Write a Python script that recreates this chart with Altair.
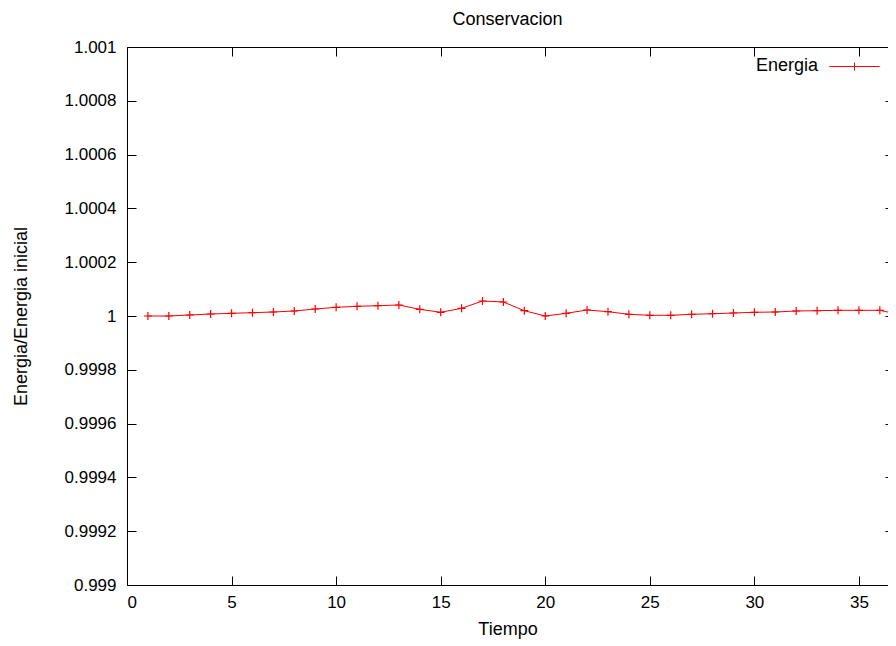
import altair as alt
import pandas as pd

FONT = "Liberation Sans"

tiempo = list(range(1, 38))
energia = [1.0, 1.0, 1.0000037, 1.0000074, 1.00001, 1.0000123, 1.0000149, 1.0000186, 1.000026, 1.0000323,
           1.000036, 1.0000383, 1.0000409, 1.0000249, 1.0000138, 1.0000286, 1.0000558, 1.000052, 1.0000197, 1.0,
           1.00001, 1.0000223, 1.000016, 1.0000063, 1.0000026, 1.0000026, 1.0000063, 1.0000085, 1.0000112, 1.0000138,
           1.0000149, 1.0000186, 1.0000197, 1.0000212, 1.0000212, 1.0000212, 1.000004]
serie = ["Energia"] * len(tiempo)

x_ticks = [0, 5, 10, 15, 20, 25, 30, 35]
y_ticks = [0.999, 0.9992, 0.9994, 0.9996, 0.9998, 1.0, 1.0002, 1.0004, 1.0006, 1.0008, 1.001]
x_domain = [0, 36.39]
y_domain = [0.999, 1.001]

df = pd.DataFrame({"Tiempo": tiempo, "Energia": energia, "serie": serie})

xs = alt.Scale(domain=x_domain, nice=False, zero=False)
ys = alt.Scale(domain=y_domain, nice=False, zero=False)

txt = dict(labelFont=FONT, labelFontSize=17, labelColor="black",
           titleFont=FONT, titleFontSize=18, titleFontWeight="normal", titleColor="black", grid=False)

x_main = alt.Axis(orient="bottom", values=x_ticks, ticks=False, tickSize=0, labelPadding=9,
                  title="Tiempo", titlePadding=10, domainColor="black", domainWidth=1, **txt)
y_main = alt.Axis(orient="left", values=y_ticks, ticks=False, tickSize=0, labelPadding=11, format=".5~g",
                  title="Energia/Energia inicial", titlePadding=34, domainColor="black", domainWidth=1, **txt)

tick_style = dict(domain=False, labels=False, title=None, grid=False, tickColor="black", tickWidth=1)
x_bot_ticks = alt.Axis(orient="bottom", values=x_ticks, offset=-9, tickSize=9, **tick_style)
y_left_ticks = alt.Axis(orient="left", values=y_ticks, offset=-9, tickSize=9, **tick_style)
x_top_dom = alt.Axis(orient="top", values=x_ticks, ticks=False, tickSize=0, labels=False, title=None,
                     grid=False, domainColor="black", domainWidth=1)
y_right_ticks = alt.Axis(orient="right", values=y_ticks, offset=-3, tickSize=9, **tick_style)
x_top_ticks = alt.Axis(orient="top", values=x_ticks, offset=-9, tickSize=9, **tick_style)

base = alt.Chart(df)

line = base.mark_line(strokeWidth=1, clip=True).encode(
    x=alt.X("Tiempo:Q", scale=xs, axis=x_main),
    y=alt.Y("Energia:Q", scale=ys, axis=y_main),
    color=alt.Color("serie:N", scale=alt.Scale(domain=["Energia"], range=["#ff0000"]),
                    legend=alt.Legend(orient="none", legendX=629, legendY=-6, padding=0,
                                      title="Energia", titleOrient="left", titleAnchor="middle",
                                      titleBaseline="top", titleFont=FONT, titleFontSize=18,
                                      titleFontWeight="normal", titleColor="black", titlePadding=10,
                                      symbolType="M-1,0L1,0M0,-0.16L0,0.16", symbolSize=2500,
                                      symbolStrokeColor="#ff0000", symbolStrokeWidth=1,
                                      symbolFillColor="transparent", labelExpr="''", labelFontSize=1,
                                      labelOffset=0)),
)

points = base.mark_point(shape="M-1,0L1,0M0,-1L0,1", size=64, filled=False, color="#ff0000",
                         strokeWidth=1.2, opacity=1, clip=True).encode(
    x=alt.X("Tiempo:Q", scale=xs, axis=x_bot_ticks),
    y=alt.Y("Energia:Q", scale=ys, axis=y_left_ticks),
)

frame1 = base.mark_point(opacity=0).encode(
    x=alt.X("Tiempo:Q", scale=xs, axis=x_top_dom),
    y=alt.Y("Energia:Q", scale=ys, axis=y_right_ticks),
)

frame2 = base.mark_point(opacity=0).encode(
    x=alt.X("Tiempo:Q", scale=xs, axis=x_top_ticks),
    y=alt.Y("Energia:Q", scale=ys, axis=None),
)

chart = alt.layer(line, points, frame1, frame2).resolve_axis(
    x="independent", y="independent"
).properties(
    width=761,
    height=538,
    title=alt.TitleParams("Conservacion", font=FONT, fontSize=18, fontWeight="normal",
                          color="black", anchor="middle", offset=9),
    autosize=alt.AutoSizeParams(type="none"),
    padding={"left": 119, "top": 39, "right": 0, "bottom": 60},
).configure_view(stroke=None)

chart.save("out.html", embed_options={"renderer": "svg", "actions": False})
